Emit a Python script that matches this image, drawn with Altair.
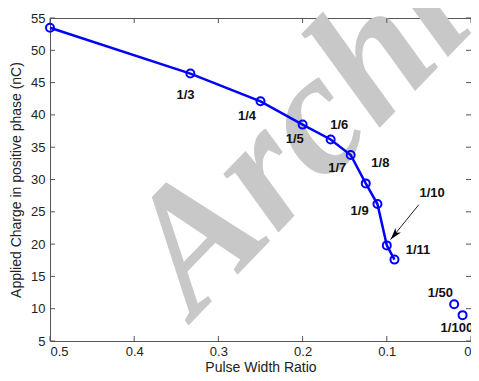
import altair as alt
import pandas as pd

# ---- data ----
ratio_names = ["1/2", "1/3", "1/4", "1/5", "1/6", "1/7", "1/8", "1/9", "1/10", "1/11", "1/50", "1/100"]
pulse_width_ratio = [0.5, 0.3333, 0.25, 0.2, 0.1667, 0.1429, 0.125, 0.1111, 0.1, 0.0909, 0.02, 0.01]
applied_charge = [53.5, 46.4, 42.1, 38.5, 36.2, 33.8, 29.4, 26.2, 19.8, 17.6, 10.7, 9.0]
on_curve = [True] * 10 + [False] * 2

# annotation labels (text and where they sit, in data units)
label_text = ["1/3", "1/4", "1/5", "1/6", "1/7", "1/8", "1/9", "1/10", "1/11", "1/50", "1/100"]
label_x = [0.339, 0.266, 0.2093, 0.1565, 0.1588, 0.1076, 0.1323, 0.0461, 0.063, 0.0364, 0.0168]
label_y = [43.15, 39.8, 36.3, 38.5, 31.8, 32.5, 25.1, 27.9, 19.05, 12.5, 7.0]

# arrow pointing at 1/10
arrow_start = [0.062, 26.1]
arrow_tip = [0.0955, 20.7]

x_ticks = [0.5, 0.4, 0.3, 0.2, 0.1, 0.0]
y_ticks = [5, 10, 15, 20, 25, 30, 35, 40, 45, 50, 55]

x_title = "Pulse Width Ratio"
y_title = "Applied Charge in positive phase (nC)"

watermark_text = "Archive"
watermark_pos = [0.328, 8.4]

W, H = 421, 323
BLUE = "#0000ff"
AX = "#555555"

pts = pd.DataFrame({"name": ratio_names, "x": pulse_width_ratio, "y": applied_charge, "curve": on_curve})
labels = pd.DataFrame({"t": label_text, "x": label_x, "y": label_y})
arrow = pd.DataFrame({"x": [arrow_start[0]], "y": [arrow_start[1]], "x2": [arrow_tip[0]], "y2": [arrow_tip[1]]})
wm = pd.DataFrame({"t": [watermark_text], "x": [watermark_pos[0]], "y": [watermark_pos[1]]})
xt = pd.DataFrame({"v": x_ticks})
yt = pd.DataFrame({"v": y_ticks})

xscale = alt.Scale(domain=[0, 0.5], reverse=True, nice=False, zero=False)
yscale = alt.Scale(domain=[5, 55], nice=False, zero=False)

x_axis = alt.Axis(values=x_ticks, tickSize=0, labelPadding=4, grid=False, domain=False,
                  labelOverlap=False,
                  labelExpr="datum.value == 0 ? '0' : format(datum.value, '.1f')",
                  titleY=30, titleBaseline="alphabetic")
y_axis = alt.Axis(values=y_ticks, tickSize=0, labelPadding=5, grid=False, domain=False,
                  labelOverlap=False,
                  titleX=-30, titleY=H / 2, titleAngle=270, titleAlign="center",
                  titleBaseline="alphabetic")


def px(field):
    return alt.X(field, scale=xscale, title=x_title, axis=x_axis)


def py(field):
    return alt.Y(field, scale=yscale, title=y_title, axis=y_axis)


watermark = alt.Chart(wm).mark_text(
    font="Liberation Serif, Times New Roman, serif", fontStyle="italic", fontWeight="bold",
    fontSize=175, color="#c8c8c8", angle=314, align="left", baseline="alphabetic"
).encode(x=px("x:Q"), y=py("y:Q"), text="t:N")

xtick_b = alt.Chart(xt).mark_rule(color=AX, strokeWidth=1).encode(
    x=px("v:Q"), y=alt.value(H), y2=alt.value(H - 5))
xtick_t = alt.Chart(xt).mark_rule(color=AX, strokeWidth=1).encode(
    x=px("v:Q"), y=alt.value(0), y2=alt.value(5))
ytick_l = alt.Chart(yt).mark_rule(color=AX, strokeWidth=1).encode(
    y=py("v:Q"), x=alt.value(0), x2=alt.value(5))
ytick_r = alt.Chart(yt).mark_rule(color=AX, strokeWidth=1).encode(
    y=py("v:Q"), x=alt.value(W), x2=alt.value(W - 5))

line = alt.Chart(pts).transform_filter("datum.curve").mark_line(
    color=BLUE, strokeWidth=2.5).encode(x=px("x:Q"), y=py("y:Q"), order="x:Q")

points = alt.Chart(pts).mark_point(
    shape="circle", filled=False, color=BLUE, strokeWidth=2, size=64, opacity=1
).encode(x=px("x:Q"), y=py("y:Q"))

texts = alt.Chart(labels).mark_text(
    font="Liberation Sans", fontWeight="bold", fontSize=13, color="#111111",
    align="center", baseline="middle"
).encode(x=px("x:Q"), y=py("y:Q"), text="t:N")

arrow_line = alt.Chart(arrow).mark_rule(color="#222222", strokeWidth=1).encode(
    x=px("x:Q"), y=py("y:Q"), x2="x2:Q", y2="y2:Q")

arrow_head = alt.Chart(arrow).mark_point(
    shape="M0,0L0.5,1.7L0,1.25L-0.5,1.7Z", filled=True, color="#000000", size=200,
    angle=219.5, opacity=1, strokeWidth=0
).encode(x=px("x2:Q"), y=py("y2:Q"))

chart = alt.layer(
    watermark, xtick_b, xtick_t, ytick_l, ytick_r, line, points, texts, arrow_line, arrow_head
).properties(
    width=W, height=H,
    autosize=alt.AutoSizeParams(type="none"),
    padding={"left": 42, "top": 10, "right": 0, "bottom": 32},
).configure_view(
    stroke=AX, strokeWidth=1
).configure_axis(
    labelFont="Liberation Sans", labelFontSize=13, labelColor="#222222", labelOverlap=False,
    titleFont="Liberation Sans", titleFontSize=14, titleColor="#222222", titleFontWeight="normal"
)

chart.save("out.html", embed_options={"renderer": "svg", "actions": False})
